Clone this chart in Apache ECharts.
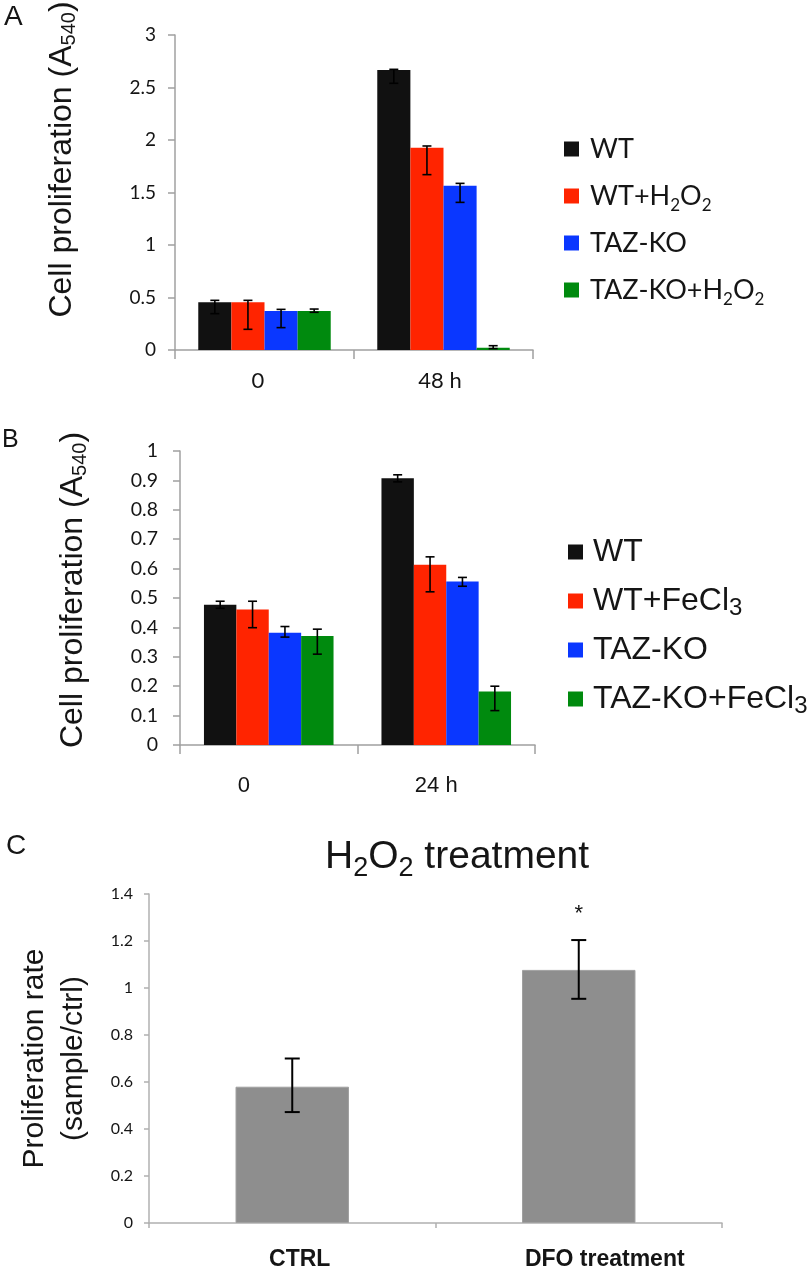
<!DOCTYPE html>
<html><head><meta charset="utf-8">
<script src="https://cdn.jsdelivr.net/npm/echarts@6/dist/echarts.min.js"></script>
<style>html,body{margin:0;padding:0;background:#fff}#c{width:812px;height:1284px}</style>
</head><body><div id="c"></div>
<script>
// ---------- Panel A ----------
const catsA = ['0', '48 h'];
const namesA = ['WT', 'WT+H2O2', 'TAZ-KO', 'TAZ-KO+H2O2'];
const a_WT = [0.454, 2.667];
const a_WT_H2O2 = [0.454, 1.927];
const a_KO = [0.371, 1.565];
const a_KO_H2O2 = [0.371, 0.022];
// error bars [low, high] per category
const a_WT_err = [[0.346, 0.473], [2.54, 2.673]];
const a_WT_H2O2_err = [[0.197, 0.473], [1.67, 1.943]];
const a_KO_err = [[0.213, 0.387], [1.406, 1.587]];
const a_KO_H2O2_err = [[0.359, 0.39], [0.013, 0.041]];
const ticksA = [0, 3, 0.5];

// ---------- Panel B ----------
const catsB = ['0', '24 h'];
const namesB = ['WT', 'WT+FeCl3', 'TAZ-KO', 'TAZ-KO+FeCl3'];
const b_WT = [0.477, 0.907];
const b_WT_Fe = [0.461, 0.613];
const b_KO = [0.382, 0.556];
const b_KO_Fe = [0.371, 0.182];
const b_WT_err = [[0.465, 0.489], [0.895, 0.919]];
const b_WT_Fe_err = [[0.399, 0.489], [0.521, 0.640]];
const b_KO_err = [[0.367, 0.403], [0.540, 0.570]];
const b_KO_Fe_err = [[0.309, 0.394], [0.117, 0.200]];
const ticksB = [0, 1, 0.1];

// ---------- Panel C ----------
const catsC = ['CTRL', 'DFO treatment'];
const c_vals = [0.58, 1.077];
const c_err = [[0.472, 0.70], [0.954, 1.204]];
const c_sig = ['', '*'];
const ticksC = [0, 1.4, 0.2];

const colors4 = ['#111111', '#ff2400', '#0a37ff', '#008a0e'];
const grayBar = '#8e8e8e';
const axisGray = '#a0a0a0';
const txt = '#151515';

function richName(n) {
  return n.replace('H2O2', 'H{s|2}O{s|2}').replace('FeCl3', 'FeCl{s|3}');
}

function errRender(n, gap, capHalf, lw, sig) {
  return function (params, api) {
    const ci = api.value(0), si = api.value(1), lo = api.value(2), hi = api.value(3);
    const band = api.size([1, 0])[0];
    const gw = band * (1 - gap);
    const bw = gw / n;
    const x = api.coord([ci, 0])[0] - gw / 2 + (si + 0.5) * bw;
    const yHi = api.coord([ci, hi])[1], yLo = api.coord([ci, lo])[1];
    const style = { stroke: '#000', lineWidth: lw };
    const ch = [
      { type: 'line', shape: { x1: x, y1: yHi, x2: x, y2: yLo }, style },
      { type: 'line', shape: { x1: x - capHalf, y1: yHi, x2: x + capHalf, y2: yHi }, style },
      { type: 'line', shape: { x1: x - capHalf, y1: yLo, x2: x + capHalf, y2: yLo }, style }
    ];
    if (sig && sig[ci]) {
      ch.push({ type: 'text', style: { text: sig[ci], x: x, y: yHi - 26, align: 'center', verticalAlign: 'middle',
        fontSize: 22, fontFamily: 'Liberation Sans', fill: '#111' } });
    }
    return { type: 'group', children: ch };
  };
}

function errData(list) {
  const out = [];
  list.forEach((errs, si) => errs.forEach((e, ci) => out.push([ci, si, e[0], e[1]])));
  return out;
}

function tickLabel(size) {
  return { formatter: v => '{t|' + v + '}', rich: { t: { fontFamily: 'Lato', fontSize: size, color: txt } } };
}

const lineStyle = { color: axisGray, width: 1.5 };

const gapA = 0.26, gapB = 0.27, gapC = 0.604;

const option = {
  animation: false,
  backgroundColor: '#fff',
  grid: [
    { left: 175, top: 35, width: 358, height: 315, outerBoundsMode: 'none' },
    { left: 180, top: 451, width: 355, height: 294, outerBoundsMode: 'none' },
    { left: 149, top: 894, width: 573, height: 329, outerBoundsMode: 'none' }
  ],
  title: {
    text: 'H{s|2}O{s|2} treatment', left: 325, top: 834, padding: 0,
    textStyle: { fontFamily: 'Liberation Sans', fontSize: 39, fontWeight: 'normal', color: txt, lineHeight: 46,
      rich: { s: { fontFamily: 'Liberation Sans', fontSize: 27, lineHeight: 46, padding: [24, 0, 0, 0], color: txt } } }
  },
  legend: [
    { orient: 'vertical', left: 564, top: 134, padding: 0, itemWidth: 15, itemHeight: 15, itemGap: 14, icon: 'rect',
      data: namesA, formatter: richName,
      textStyle: { fontFamily: 'Lato', fontSize: 27, color: txt, lineHeight: 30, padding: [0, 0, 0, 6],
        rich: { s: { fontFamily: 'Lato', fontSize: 17, color: txt, lineHeight: 30, padding: [19, 0, 0, 0] } } } },
    { orient: 'vertical', left: 568, top: 536, padding: 0, itemWidth: 15, itemHeight: 15, itemGap: 14, icon: 'rect',
      data: namesB, formatter: richName,
      textStyle: { fontFamily: 'Liberation Sans', fontSize: 32, color: txt, lineHeight: 32, padding: [0, 0, 0, 5],
        rich: { s: { fontFamily: 'Liberation Sans', fontSize: 24, color: txt, lineHeight: 32, padding: [14, 0, 0, 0] } } } }
  ],
  xAxis: [
    { gridIndex: 0, type: 'category', data: catsA,
      axisLine: { show: true, lineStyle }, axisTick: { show: true, length: 9, lineStyle },
      axisLabel: { margin: 20, formatter: (v, i) => '{c' + i + '|' + v + '}',
        rich: { c0: { fontFamily: 'Lato', fontSize: 22, color: txt, padding: [0, 13, 0, 0] },
                c1: { fontFamily: 'Lato', fontSize: 22, color: txt, padding: [0, 7, 0, 0] } } } },
    { gridIndex: 1, type: 'category', data: catsB,
      axisLine: { show: true, lineStyle }, axisTick: { show: true, length: 9, lineStyle },
      axisLabel: { margin: 30, formatter: (v, i) => '{c' + i + '|' + v + '}',
        rich: { c0: { fontFamily: 'Liberation Sans', fontSize: 22, color: txt, padding: [0, 50, 0, 0] },
                c1: { fontFamily: 'Liberation Sans', fontSize: 22, color: txt, padding: [0, 20, 0, 0] } } } },
    { gridIndex: 2, type: 'category', data: catsC,
      axisLine: { show: true, lineStyle: { color: '#b0b0b0', width: 1.5 } }, axisTick: { show: true, length: 5, lineStyle: { color: '#b0b0b0', width: 1.5 } },
      axisLabel: { margin: 25, formatter: (v, i) => '{c' + i + '|' + v + '}',
        rich: { c0: { fontFamily: 'Liberation Sans', fontWeight: 'bold', fontSize: 23, color: txt, padding: [0, 0, 0, 15] },
                c1: { fontFamily: 'Liberation Sans', fontWeight: 'bold', fontSize: 23, color: txt, padding: [0, 0, 0, 52] } } } }
  ],
  yAxis: [
    { gridIndex: 0, type: 'value', min: ticksA[0], max: ticksA[1], interval: ticksA[2],
      axisLine: { show: true, lineStyle }, axisTick: { show: true, length: 7, lineStyle }, splitLine: { show: false },
      axisLabel: Object.assign({ margin: 19 }, tickLabel(19)),
      name: 'Cell proliferation (A{s|540})', nameLocation: 'middle', nameRotate: 90, nameGap: 93,
      nameTextStyle: { fontFamily: 'Liberation Sans', fontSize: 32, color: txt, lineHeight: 40, padding: [0, 0, 0, 66],
        rich: { s: { fontFamily: 'Liberation Sans', fontSize: 20, color: txt, lineHeight: 40, padding: [14, 0, 0, 0] } } } },
    { gridIndex: 1, type: 'value', min: ticksB[0], max: ticksB[1], interval: ticksB[2],
      axisLine: { show: true, lineStyle }, axisTick: { show: true, length: 7, lineStyle }, splitLine: { show: false },
      axisLabel: Object.assign({ margin: 22 }, tickLabel(19.5)),
      name: 'Cell proliferation (A{s|540})', nameLocation: 'middle', nameRotate: 90, nameGap: 87,
      nameTextStyle: { fontFamily: 'Liberation Sans', fontSize: 32, color: txt, lineHeight: 40, padding: [0, 0, 0, 16],
        rich: { s: { fontFamily: 'Liberation Sans', fontSize: 20, color: txt, lineHeight: 40, padding: [14, 0, 0, 0] } } } },
    { gridIndex: 2, type: 'value', min: ticksC[0], max: ticksC[1], interval: ticksC[2],
      axisLine: { show: true, lineStyle: { color: '#b0b0b0', width: 1.5 } }, axisTick: { show: true, length: 5, lineStyle: { color: '#b0b0b0', width: 1.5 } }, splitLine: { show: false },
      axisLabel: Object.assign({ margin: 16 }, tickLabel(16)),
      name: 'Proliferation rate\n(sample/ctrl)', nameLocation: 'middle', nameRotate: 90, nameGap: 56,
      nameTextStyle: { fontFamily: 'Liberation Sans', fontSize: 30, color: txt, lineHeight: 39 } }
  ],
  graphic: [
    { type: 'text', left: 4, top: 3, style: { text: 'A', fontSize: 28, fontFamily: 'Liberation Sans', fill: txt } },
    { type: 'text', left: 2, top: 428, style: { text: 'B', fontSize: 25, fontFamily: 'Liberation Sans', fill: txt } },
    { type: 'text', left: 6, top: 832, style: { text: 'C', fontSize: 28, fontFamily: 'Liberation Sans', fill: txt } }
  ],
  series: []
};

const seriesA = [a_WT, a_WT_H2O2, a_KO, a_KO_H2O2];
seriesA.forEach((d, i) => option.series.push({ type: 'bar', name: namesA[i], xAxisIndex: 0, yAxisIndex: 0, data: d,
  barGap: '0%', barCategoryGap: (gapA * 100) + '%', itemStyle: { color: colors4[i] } }));
option.series.push({ type: 'custom', name: 'errA', xAxisIndex: 0, yAxisIndex: 0, z: 5,
  renderItem: errRender(4, gapA, 4.5, 1.6), encode: { x: 0, y: [2, 3] },
  data: errData([a_WT_err, a_WT_H2O2_err, a_KO_err, a_KO_H2O2_err]) });

const seriesB = [b_WT, b_WT_Fe, b_KO, b_KO_Fe];
seriesB.forEach((d, i) => option.series.push({ type: 'bar', name: namesB[i], xAxisIndex: 1, yAxisIndex: 1, data: d,
  barGap: '0%', barCategoryGap: (gapB * 100) + '%', itemStyle: { color: colors4[i] } }));
option.series.push({ type: 'custom', name: 'errB', xAxisIndex: 1, yAxisIndex: 1, z: 5,
  renderItem: errRender(4, gapB, 4.5, 1.6), encode: { x: 0, y: [2, 3] },
  data: errData([b_WT_err, b_WT_Fe_err, b_KO_err, b_KO_Fe_err]) });

option.series.push({ type: 'bar', name: 'C', xAxisIndex: 2, yAxisIndex: 2, data: c_vals,
  barCategoryGap: (gapC * 100) + '%', itemStyle: { color: grayBar, borderColor: '#a0a0a0', borderWidth: 1 } });
option.series.push({ type: 'custom', name: 'errC', xAxisIndex: 2, yAxisIndex: 2, z: 5,
  renderItem: errRender(1, gapC, 7.5, 2, c_sig), encode: { x: 0, y: [2, 3] },
  data: errData([c_err]) });

const chart = echarts.init(document.getElementById('c'), null, { renderer: 'canvas' });
chart.setOption(option);
</script></body></html>
